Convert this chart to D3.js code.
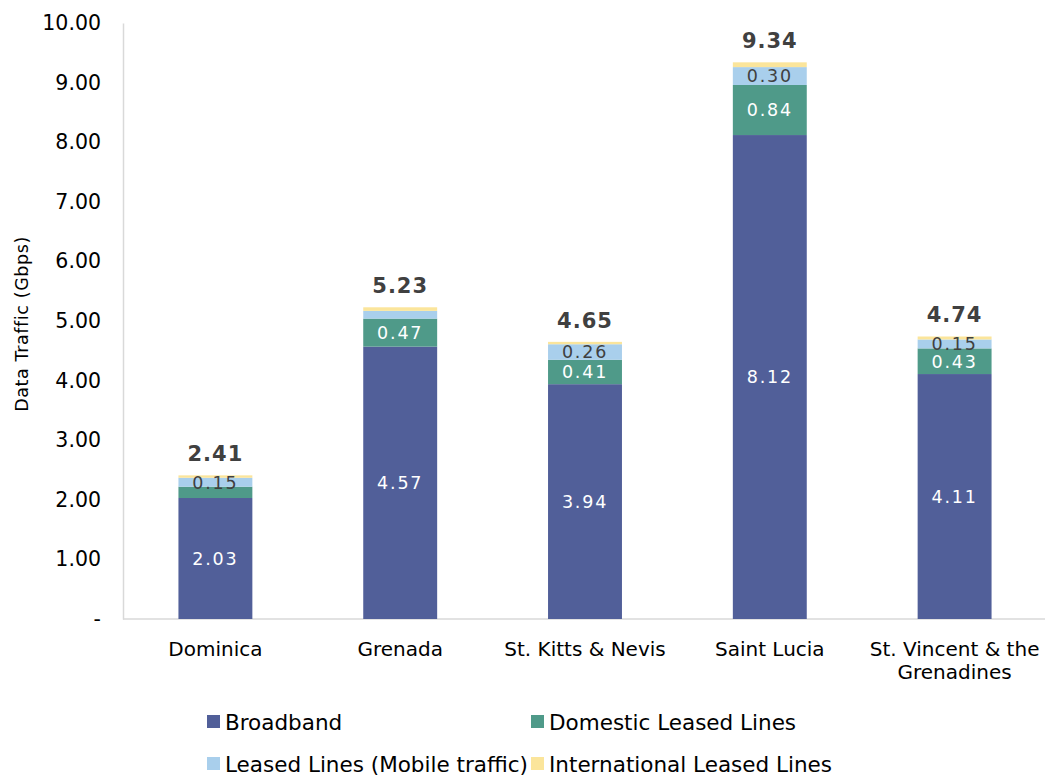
<!DOCTYPE html>
<html>
<head>
<meta charset="utf-8">
<script src="https://cdn.jsdelivr.net/npm/d3@7"></script>
<style>
  html, body { margin: 0; padding: 0; background: #fff; }
  svg { display: block; font-family: "DejaVu Sans", Verdana, sans-serif; }
</style>
</head>
<body>
<svg id="chart" width="1045" height="776"></svg>
<script>
// Data traffic by country, stacked by traffic type (Gbps)
const countries = ["Dominica", "Grenada", "St. Kitts & Nevis", "Saint Lucia", "St. Vincent & the Grenadines"];
const seriesNames = ["Broadband", "Domestic Leased Lines", "Leased Lines (Mobile traffic)", "International Leased Lines"];
const broadband = [2.03, 4.57, 3.94, 8.12, 4.11];
const domestic = [0.19, 0.47, 0.41, 0.84, 0.43];
const mobile = [0.15, 0.13, 0.26, 0.30, 0.15];
const international = [0.04, 0.06, 0.04, 0.08, 0.05];
const totals = [2.41, 5.23, 4.65, 9.34, 4.74];
const yTicks = [0, 1, 2, 3, 4, 5, 6, 7, 8, 9, 10];
const colors = ["#515f99", "#4f9a89", "#a9cfec", "#fbe59b"];
const labelColors = ["#ffffff", "#ffffff", "#404040", null];
// which segment values are printed on the bars
const showLabel = [
  [true, true, true, true, true],
  [false, true, true, true, true],
  [true, false, true, true, true],
  [false, false, false, false, false]
];

const seriesValues = [broadband, domestic, mobile, international];
const rows = countries.map((c, i) => {
  const r = { country: c };
  seriesNames.forEach((s, k) => { r[s] = seriesValues[k][i]; });
  return r;
});

const svg = d3.select("#chart");
const margin = { left: 123 };

const x = d3.scaleBand()
  .domain(countries)
  .range([margin.left, 1047])
  .paddingInner(0.6)
  .paddingOuter(0.3);

const y = d3.scaleLinear()
  .domain([0, 10])
  .range([619, 23]);

const stack = d3.stack().keys(seriesNames);
const layers = stack(rows);

// axes
const yAxis = d3.axisLeft(y)
  .tickValues(yTicks)
  .tickSize(0)
  .tickPadding(22)
  .tickFormat(d => d === 0 ? "-" : d3.format(".2f")(d));

const gy = svg.append("g")
  .attr("transform", `translate(${margin.left},0)`)
  .call(yAxis);
gy.select(".domain").attr("stroke", "#d9d9d9").attr("stroke-width", 1.5);
gy.selectAll("text").attr("font-size", 20.5).attr("fill", "#000")
  .attr("font-family", "DejaVu Sans, Verdana, sans-serif");

const xAxis = d3.axisBottom(x).tickSize(0).tickPadding(23);
const gx = svg.append("g")
  .attr("transform", `translate(0,${y(0)})`)
  .call(xAxis);
gx.select(".domain").attr("stroke", "#d9d9d9").attr("stroke-width", 1.5)
  .attr("d", `M${margin.left},0H1045`);
gx.selectAll("text").attr("font-size", 20).attr("fill", "#000")
  .attr("font-family", "DejaVu Sans, Verdana, sans-serif")
  .each(function(d) {
    const t = d3.select(this);
    if (d === "St. Vincent & the Grenadines") {
      t.text(null);
      t.append("tspan").attr("x", 0).attr("dy", "0.71em").text("St. Vincent & the");
      t.append("tspan").attr("x", 0).attr("dy", "1.15em").text("Grenadines");
    }
  });

// y axis title
svg.append("text")
  .attr("transform", `translate(28,${(y(0) + y(10)) / 2 + 3}) rotate(-90)`)
  .attr("text-anchor", "middle")
  .attr("font-size", 17.5)
  .attr("letter-spacing", 0.6)
  .attr("fill", "#000")
  .text("Data Traffic (Gbps)");

// stacked bars
const layerG = svg.append("g").selectAll("g")
  .data(layers)
  .join("g")
  .attr("fill", (d, k) => colors[k]);

layerG.selectAll("rect")
  .data(d => d)
  .join("rect")
  .attr("x", d => x(d.data.country))
  .attr("width", x.bandwidth())
  .attr("y", d => y(d[1]))
  .attr("height", d => y(d[0]) - y(d[1]));

// segment value labels
layers.forEach((layer, k) => {
  svg.append("g").selectAll("text")
    .data(layer.filter((d, i) => showLabel[k][i]))
    .join("text")
    .attr("x", d => x(d.data.country) + x.bandwidth() / 2)
    .attr("y", d => (y(d[0]) + y(d[1])) / 2)
    .attr("dy", "0.36em")
    .attr("text-anchor", "middle")
    .attr("font-size", 17.5)
    .attr("letter-spacing", 1.8)
    .attr("fill", labelColors[k])
    .text(d => d3.format(".2f")(d[1] - d[0]));
});

// totals above bars
svg.append("g").selectAll("text")
  .data(rows.map((r, i) => ({ country: r.country, total: totals[i] })))
  .join("text")
  .attr("x", d => x(d.country) + x.bandwidth() / 2)
  .attr("y", d => y(d.total) - 14)
  .attr("text-anchor", "middle")
  .attr("font-size", 21)
  .attr("font-weight", "bold")
  .attr("letter-spacing", 1)
  .attr("fill", "#404040")
  .text(d => d3.format(".2f")(d.total));

// legend
const legendPos = [[207, 722], [531, 722], [207, 764], [531, 764]];
const legend = svg.append("g").selectAll("g")
  .data(seriesNames)
  .join("g")
  .attr("transform", (d, k) => `translate(${legendPos[k][0]},${legendPos[k][1]})`);
legend.append("rect")
  .attr("x", 0).attr("y", -7)
  .attr("width", 13).attr("height", 13)
  .attr("fill", (d, k) => colors[k]);
legend.append("text")
  .attr("x", 18)
  .attr("dy", "0.35em")
  .attr("font-size", 21.5)
  .attr("fill", "#000")
  .text(d => d);
</script>
</body>
</html>
